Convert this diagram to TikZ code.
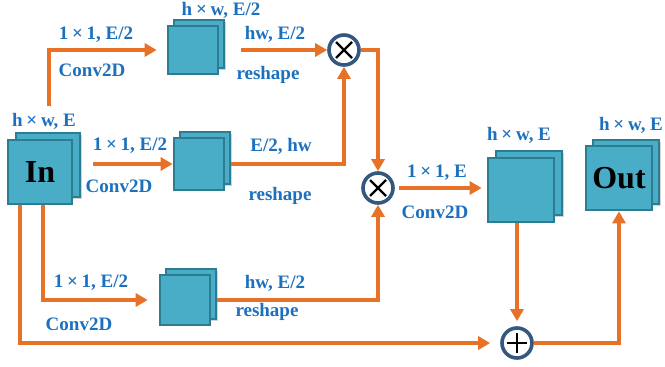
\documentclass[tikz,border=0pt]{standalone}
\usepackage{fontspec}
\setmainfont{Liberation Serif}
\usetikzlibrary{arrows.meta,shadows}
\definecolor{flowor}{RGB}{232,113,40}
\definecolor{blockfill}{RGB}{74,173,200}
\definecolor{blockedge}{RGB}{44,124,146}
\definecolor{ringblue}{RGB}{52,88,128}
\definecolor{labelblue}{RGB}{28,112,190}
\newcommand{\by}{\kern.2em×\kern.2em}
\begin{document}
\begin{tikzpicture}[x=1pt,y=-1pt,
    flow/.style={draw=flowor,line width=3.6pt,-{Triangle[length=12pt,width=13pt]}},
    layer/.style={draw=blockedge,fill=blockfill,line width=2.6pt,inner sep=0pt},
    op/.style={circle,draw=ringblue,fill=white,line width=3.6pt,minimum size=30pt,inner sep=0pt},
    lab/.style={text=labelblue,font=\bfseries\fontsize{19}{19}\selectfont,inner sep=0pt}]
    \useasboundingbox (0,0) rectangle (665,367);

    % Feature maps (back layer, then front layer)
    \foreach \name/\x/\y/\w/\h/\dx/\dy/\txt in {in/40/172/64/64/8/7/In, top/193/50/50/48/6/6/,
        mid/199/164/50/52/6/6/, bot/185/300/50/50/6/6/, big/521/190/66/64/8/7/, out/619/178/66/64/7/6/Out}{
        \node[layer,drop shadow={opacity=0.35,shadow xshift=2pt,shadow yshift=-2pt},
            minimum width=\w pt,minimum height=\h pt] (\name B) at ({\x+\dx},{\y-\dy}) {};
        \node[layer,minimum width=\w pt,minimum height=\h pt,
            font=\bfseries\fontsize{32}{32}\selectfont] (\name F) at (\x,\y) {\txt};
    }

    % Products and sum
    \node[op,path picture={
        \draw[black,line width=2.4pt] ([shift={(-8pt,-8pt)}]path picture bounding box.center) -- ([shift={(8pt,8pt)}]path picture bounding box.center);
        \draw[black,line width=2.4pt] ([shift={(-8pt,8pt)}]path picture bounding box.center) -- ([shift={(8pt,-8pt)}]path picture bounding box.center);}]
        (mulA) at (344,50) {};
    \node[op,path picture={
        \draw[black,line width=2.4pt] ([shift={(-8pt,-8pt)}]path picture bounding box.center) -- ([shift={(8pt,8pt)}]path picture bounding box.center);
        \draw[black,line width=2.4pt] ([shift={(-8pt,8pt)}]path picture bounding box.center) -- ([shift={(8pt,-8pt)}]path picture bounding box.center);}]
        (mulB) at (378,188) {};
    \node[op,path picture={
        \draw[black,line width=2.4pt] ([xshift=-10pt]path picture bounding box.center) -- ([xshift=10pt]path picture bounding box.center);
        \draw[black,line width=2.4pt] ([yshift=-10pt]path picture bounding box.center) -- ([yshift=10pt]path picture bounding box.center);}]
        (plus) at (517,343) {};
    \coordinate (topStart) at (49,106);

    % Connectors
    \draw[flow,shorten >=10pt] (topStart) |- (topF.west);
    \draw[flow,shorten <=16pt] (topB.east |- topF.east) -- (mulA.west);
    \draw[flow,shorten <=20pt] (inF.east |- midF.west) -- (midF.west);
    \draw[flow] (midB.east |- midF.east) -| (mulA.south);
    \draw[flow] (mulA.east) -| (mulB.north);
    \draw[flow,shorten >=11pt] ([xshift=3pt]inF.south) |- (botF.west);
    \draw[flow] (botB.east |- botF.east) -| (mulB.south);
    \draw[flow,shorten <=4pt,shorten >=5pt] (mulB.east) -- (mulB.east -| bigF.west);
    \draw[flow,shorten >=10pt] ([xshift=-20pt]inF.south) |- (plus.west);
    \draw[flow,shorten >=5pt] (bigF.south -| plus) -- (plus.north);
    \draw[flow] (plus.east) -| (outF.south);

    % Sizes and operations
    \node[lab] (inSize) at (44,121) {h\by w, E};
    \node[lab] (topConvA) at (96,35) {1\by 1, E/2};
    \node[lab] (topConvB) at (92,70) {Conv2D};
    \node[lab] (topSize) at (221,10) {h\by w, E/2};
    \node[lab] (topShapeA) at (275,34) {hw, E/2};
    \node[lab] (topShapeB) at (268,75) {reshape};
    \node[lab] (midConvA) at (130,146) {1\by 1, E/2};
    \node[lab] (midConvB) at (119,186) {Conv2D};
    \node[lab] (midShapeA) at (281,146) {E/2, hw};
    \node[lab] (midShapeB) at (280,196) {reshape};
    \node[lab] (botConvA) at (91,283) {1\by 1, E/2};
    \node[lab] (botConvB) at (79,324) {Conv2D};
    \node[lab] (botShapeA) at (275,283) {hw, E/2};
    \node[lab] (botShapeB) at (267,312) {reshape};
    \node[lab] (bigConvA) at (437,173) {1\by 1, E};
    \node[lab] (bigConvB) at (435,212) {Conv2D};
    \node[lab] (bigSize) at (519,135) {h\by w, E};
    \node[lab] (outSize) at (631,125) {h\by w, E};
\end{tikzpicture}
\end{document}
